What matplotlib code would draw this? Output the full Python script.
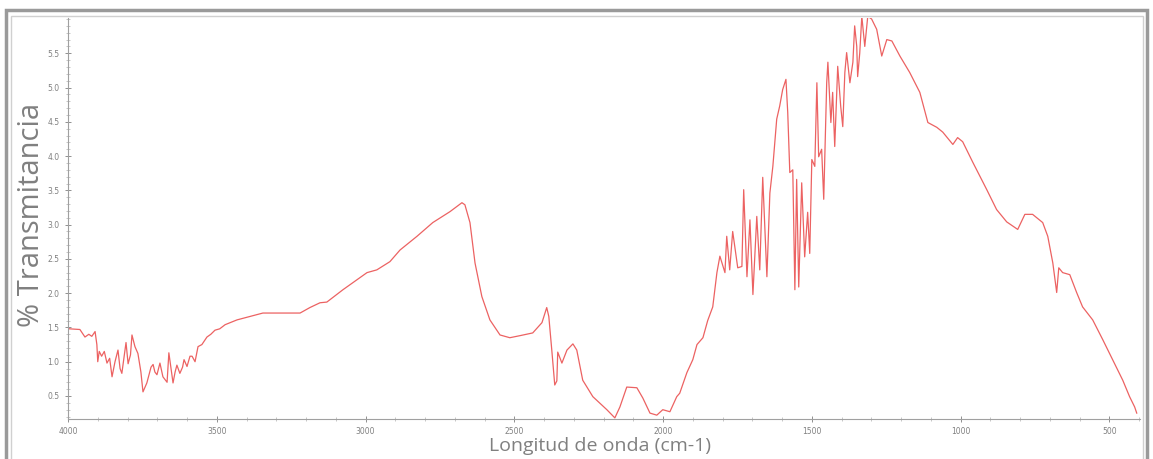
import matplotlib.pyplot as plt
from matplotlib.patches import Rectangle
from matplotlib.ticker import MultipleLocator, FormatStrFormatter

# ----------------------------
# Spectrum values
# ----------------------------

wavenumber = [
    4000, 3996, 3960, 3943, 3930, 3920, 3909, 3903, 3900, 3895, 3887, 3878,
    3869, 3860, 3852, 3842, 3832, 3825, 3819, 3812, 3805, 3798, 3790, 3785,
    3775, 3765, 3755, 3748, 3735, 3721, 3714, 3708, 3701, 3691, 3681, 3667,
    3661, 3647, 3640, 3634, 3624, 3615, 3610, 3600, 3590, 3583, 3573, 3563,
    3550, 3533, 3520, 3506, 3490, 3472, 3432, 3388, 3345, 3298, 3220, 3187,
    3153, 3130, 3076, 2995, 2962, 2918, 2884, 2827, 2774, 2716, 2676, 2666,
    2649, 2632, 2609, 2582, 2548, 2515, 2481, 2438, 2407, 2391, 2384, 2374,
    2364, 2357, 2354, 2340, 2323, 2303, 2290, 2270, 2236, 2189, 2162, 2145,
    2122, 2088, 2068, 2044, 2021, 2001, 1977, 1954, 1944, 1920, 1900, 1886,
    1866, 1850, 1833, 1819, 1809, 1792, 1786, 1776, 1766, 1749, 1735, 1729,
    1718, 1708, 1698, 1685, 1675, 1665, 1651, 1641, 1631, 1618, 1608, 1598,
    1587, 1581, 1574, 1564, 1557, 1551, 1544, 1534, 1524, 1514, 1507, 1500,
    1490, 1483, 1477, 1467, 1460, 1450, 1446, 1436, 1430, 1423, 1413, 1403,
    1396, 1389, 1383, 1372, 1362, 1356, 1349, 1346, 1339, 1332, 1322, 1312,
    1299, 1282, 1265, 1248, 1231, 1204, 1171, 1137, 1110, 1080, 1060, 1026,
    1010, 993, 959, 912, 879, 845, 808, 784, 758, 724, 707, 690,
    677, 670, 657, 633, 610, 590, 556, 522, 489, 455, 432, 415,
    408,
]

transmittance = [
    1.50, 1.48, 1.47, 1.36, 1.40, 1.37, 1.44, 1.25, 1.00, 1.15, 1.08, 1.15,
    0.98, 1.05, 0.78, 1.00, 1.17, 0.90, 0.83, 1.05, 1.28, 0.97, 1.10, 1.39,
    1.22, 1.12, 0.85, 0.56, 0.69, 0.92, 0.96, 0.85, 0.81, 0.98, 0.78, 0.70,
    1.13, 0.69, 0.85, 0.95, 0.83, 0.92, 1.03, 0.93, 1.08, 1.08, 1.00, 1.22,
    1.25, 1.36, 1.40, 1.46, 1.48, 1.54, 1.61, 1.66, 1.71, 1.71, 1.71, 1.79,
    1.86, 1.87, 2.05, 2.30, 2.34, 2.46, 2.63, 2.83, 3.03, 3.19, 3.32, 3.29,
    3.03, 2.44, 1.95, 1.61, 1.39, 1.35, 1.38, 1.42, 1.57, 1.79, 1.66, 1.17,
    0.66, 0.72, 1.14, 0.98, 1.17, 1.26, 1.17, 0.73, 0.49, 0.30, 0.18, 0.34,
    0.63, 0.62, 0.47, 0.25, 0.22, 0.30, 0.27, 0.49, 0.54, 0.84, 1.03, 1.25,
    1.35, 1.60, 1.80, 2.30, 2.54, 2.30, 2.83, 2.34, 2.90, 2.37, 2.39, 3.51,
    2.24, 3.07, 1.98, 3.12, 2.34, 3.69, 2.24, 3.46, 3.85, 4.54, 4.73, 4.97,
    5.12, 4.64, 3.76, 3.80, 2.05, 3.66, 2.09, 3.61, 2.53, 3.18, 2.58, 3.95,
    3.85, 5.07, 3.99, 4.10, 3.37, 5.07, 5.37, 4.49, 4.93, 4.14, 5.31, 4.73,
    4.43, 5.22, 5.51, 5.07, 5.37, 5.90, 5.60, 5.16, 5.50, 6.04, 5.60, 6.04,
    6.00, 5.85, 5.46, 5.70, 5.68, 5.46, 5.22, 4.93, 4.49, 4.42, 4.35, 4.17,
    4.27, 4.21, 3.91, 3.51, 3.22, 3.04, 2.93, 3.15, 3.15, 3.03, 2.83, 2.44,
    2.01, 2.37, 2.30, 2.27, 2.01, 1.80, 1.61, 1.32, 1.03, 0.73, 0.49, 0.34,
    0.25,
]

y_ticks = [0.5, 1.0, 1.5, 2.0, 2.5, 3.0, 3.5, 4.0, 4.5, 5.0, 5.5]

# ----------------------------
# Plot
# ----------------------------

fig = plt.figure(figsize=(11.53, 4.59), dpi=100)

# window-like frame around the chart
fig.patches.append(Rectangle((6 / 1153, -0.05), 1141 / 1153, 1.05 - 10 / 459,
                             transform=fig.transFigure, fill=False,
                             edgecolor="#9a9a9a", lw=2.5))
fig.patches.append(Rectangle((11 / 1153, -0.05), 1132 / 1153, 1.05 - 16 / 459,
                             transform=fig.transFigure, fill=False,
                             edgecolor="#d0d0d0", lw=1.0))

ax = fig.add_axes([68 / 1153, 40 / 459, 1072 / 1153, 401 / 459])

ax.plot(wavenumber, transmittance, color="#ec6262", lw=0.9)

ax.set_xlim(4000, 397)
ax.set_ylim(0.164, 6.015)

ax.xaxis.set_major_locator(MultipleLocator(500))
ax.xaxis.set_minor_locator(MultipleLocator(100))
ax.set_yticks(y_ticks)
ax.yaxis.set_minor_locator(MultipleLocator(0.1))
ax.yaxis.set_major_formatter(FormatStrFormatter("%.1f"))

for side in ["top", "right"]:
    ax.spines[side].set_visible(False)
for side in ["left", "bottom"]:
    ax.spines[side].set_color("#a0a0a0")
    ax.spines[side].set_linewidth(0.8)

ax.tick_params(which="major", direction="inout", length=5, width=0.7,
               color="#909090", labelsize=5.5, labelcolor="#808080")
ax.tick_params(which="minor", direction="inout", length=2.5, width=0.5,
               color="#b0b0b0")

fig.text(32 / 1153, 1 - 215 / 459, "% Transmitancia", rotation=90,
         ha="center", va="center", fontsize=21, color="#808080",
         family="Open Sans")
fig.text(600 / 1153, 1 - 446 / 459, "Longitud de onda (cm-1)",
         ha="center", va="center", fontsize=14, color="#808080",
         family="Open Sans")

plt.savefig("out.png", dpi=100)
